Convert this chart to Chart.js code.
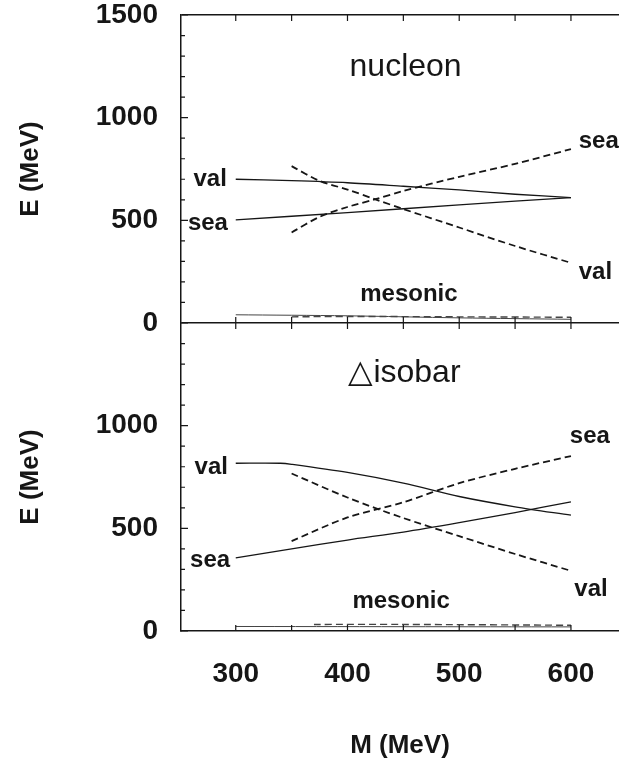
<!DOCTYPE html>
<html>
<head>
<meta charset="utf-8">
<script src="https://cdn.jsdelivr.net/npm/chart.js@4.4.1/dist/chart.umd.min.js"></script>
<style>
  html, body { margin: 0; padding: 0; background: #fff; }
</style>
</head>
<body>
<canvas id="chart" width="619" height="767"></canvas>
<script>
// M (MeV) on x, E (MeV) on y. Top panel: nucleon, bottom panel: Delta isobar.

// nucleon
const nucValM = [300, 350, 400, 450, 500, 550, 600];
const nucValE = [700, 693, 683, 666, 648, 627, 611];
const nucSeaM = [300, 400, 500, 600];
const nucSeaE = [502, 538, 575, 611];
const nucValDashM = [350, 375, 400, 425, 450, 500, 550, 600];
const nucValDashE = [764, 692, 650, 602, 555, 465, 375, 293];
const nucSeaDashM = [350, 375, 400, 425, 450, 500, 550, 600];
const nucSeaDashE = [441, 517, 565, 603, 643, 712, 775, 847];
const nucMesM = [300, 400, 500, 600];
const nucMesE = [40, 35, 25, 18];
const nucMesDashM = [350, 400, 500, 600];
const nucMesDashE = [30, 32, 30, 28];

// delta isobar
const delValM = [300, 340, 350, 400, 450, 500, 550, 600];
const delValE = [817, 817, 812, 772, 720, 655, 605, 564];
const delSeaM = [300, 350, 400, 450, 500, 550, 600];
const delSeaE = [356, 400, 443, 482, 528, 577, 629];
const delValDashM = [350, 400, 450, 500, 550, 600];
const delValDashE = [767, 650, 550, 462, 375, 293];
const delSeaDashM = [350, 400, 450, 500, 550, 600];
const delSeaDashE = [438, 553, 627, 720, 790, 852];
const delMesM = [300, 600];
const delMesE = [22, 20];
const delMesDashM = [370, 450, 600];
const delMesDashE = [32, 32, 28];

const xTickLabels = [300, 400, 500, 600];
const yTickLabels = [0, 500, 1000, 1500];

// text inside the panels, placed in data units
const nucNotes = [
  { text: 'val', m: 292, e: 700, align: 'right', kind: 'tag' },
  { text: 'sea', m: 293, e: 486, align: 'right', kind: 'tag' },
  { text: 'sea', m: 607, e: 884, align: 'left', kind: 'tag' },
  { text: 'val', m: 607, e: 248, align: 'left', kind: 'tag' },
  { text: 'nucleon', m: 452, e: 1244, align: 'center', kind: 'title' },
  { text: 'mesonic', m: 455, e: 141, align: 'center', kind: 'tag' }
];
const delNotes = [
  { text: 'val', m: 293, e: 799, align: 'right', kind: 'tag' },
  { text: 'sea', m: 295, e: 343, align: 'right', kind: 'tag' },
  { text: 'sea', m: 599, e: 946, align: 'left', kind: 'tag' },
  { text: 'val', m: 603, e: 201, align: 'left', kind: 'tag' },
  { text: '\u25B3isobar', m: 451, e: 1255, align: 'center', kind: 'title' },
  { text: 'mesonic', m: 448, e: 142, align: 'center', kind: 'tag' }
];

const ink = '#161616';
const FONT = '"Liberation Sans", Arial, Helvetica, sans-serif';
Chart.defaults.font.family = FONT;
Chart.defaults.color = ink;

function pts(ms, es) {
  return ms.map((m, i) => ({ x: m, y: es[i] }));
}

function solid(ms, es, axis, width, color) {
  return {
    data: pts(ms, es), yAxisID: axis,
    borderColor: color || ink, borderWidth: width || 1.3,
    pointRadius: 0, tension: 0.3, fill: false
  };
}

function dashed(ms, es, axis, width, color) {
  return {
    data: pts(ms, es), yAxisID: axis,
    borderColor: color || ink, borderWidth: width || 1.8,
    borderDash: [7, 4], pointRadius: 0, tension: 0.3, fill: false
  };
}

// small inward tick marks like the original frame
const innerTicks = {
  id: 'innerTicks',
  afterDraw(chart) {
    const { ctx, chartArea: a, scales } = chart;
    const sep = scales.yNuc.getPixelForValue(0);
    ctx.save();
    ctx.strokeStyle = ink;
    ctx.lineWidth = 1.2;
    ctx.beginPath();
    scales.x.ticks.forEach(t => {
      const px = scales.x.getPixelForValue(t.value);
      ctx.moveTo(px, a.bottom); ctx.lineTo(px, a.bottom - 6);
      ctx.moveTo(px, a.top); ctx.lineTo(px, a.top + 6);
      ctx.moveTo(px, sep - 6); ctx.lineTo(px, sep + 6);
    });
    [scales.yNuc, scales.yDel].forEach(s => s.ticks.forEach(t => {
      const py = s.getPixelForValue(t.value);
      const len = t.value % 500 === 0 ? 7 : 4;
      ctx.moveTo(a.left, py); ctx.lineTo(a.left + len, py);
    }));
    ctx.stroke();
    ctx.restore();
  }
};

const notesPlugin = {
  id: 'notes',
  afterDatasetsDraw(chart) {
    const { ctx, scales } = chart;
    const draw = (notes, axis) => notes.forEach(n => {
      ctx.font = n.kind === 'title' ? '32px ' + FONT : 'bold 24px ' + FONT;
      ctx.textAlign = n.align;
      ctx.textBaseline = 'middle';
      ctx.fillStyle = ink;
      ctx.fillText(n.text, scales.x.getPixelForValue(n.m), axis.getPixelForValue(n.e));
    });
    ctx.save();
    draw(nucNotes, scales.yNuc);
    draw(delNotes, scales.yDel);
    ctx.restore();
  }
};

function yAxis(title, showTop) {
  return {
    type: 'linear', position: 'left', stack: 'e', stackWeight: 1,
    min: 0, max: 1500,
    afterFit: s => { s.width = 181; s.paddingTop = 0; s.paddingBottom = 0; },
    ticks: {
      stepSize: 100, autoSkip: false, padding: 23,
      font: { size: 28, weight: 'bold', lineHeight: 1.1 },
      color: ink,
      callback: v => (yTickLabels.includes(v) && (showTop || v !== 1500)) ? String(v) : ''
    },
    grid: {
      display: showTop, drawTicks: false, lineWidth: 1.5,
      color: c => (c.tick && (c.tick.value === 0 || c.tick.value === 1500)) ? ink : 'rgba(0,0,0,0)'
    },
    border: { display: true, color: ink, width: 1.5 },
    title: {
      display: true, text: title, color: ink,
      font: { size: 26, weight: 'bold', lineHeight: 1.2 },
      padding: { top: 15, bottom: 0 }
    }
  };
}

new Chart(document.getElementById('chart'), {
  type: 'line',
  data: {
    datasets: [
      solid(nucValM, nucValE, 'yNuc'),
      solid(nucSeaM, nucSeaE, 'yNuc'),
      dashed(nucValDashM, nucValDashE, 'yNuc'),
      dashed(nucSeaDashM, nucSeaDashE, 'yNuc'),
      solid(nucMesM, nucMesE, 'yNuc', 1, '#444'),
      dashed(nucMesDashM, nucMesDashE, 'yNuc', 1.4, '#444'),
      solid(delValM, delValE, 'yDel'),
      solid(delSeaM, delSeaE, 'yDel'),
      dashed(delValDashM, delValDashE, 'yDel'),
      dashed(delSeaDashM, delSeaDashE, 'yDel'),
      solid(delMesM, delMesE, 'yDel', 1, '#444'),
      dashed(delMesDashM, delMesDashE, 'yDel', 1.4, '#444')
    ]
  },
  options: {
    responsive: false,
    animation: false,
    layout: { padding: { top: 15, right: 0, bottom: 0, left: 0 } },
    plugins: { legend: { display: false }, tooltip: { enabled: false } },
    scales: {
      x: {
        type: 'linear', position: 'bottom', min: 251, max: 643,
        afterFit: s => { s.paddingLeft = 0; s.paddingRight = 0; },
        ticks: {
          stepSize: 50, includeBounds: false, autoSkip: false, maxRotation: 0,
          padding: 28, color: ink,
          font: { size: 28, weight: 'bold', lineHeight: 1.1 },
          callback: v => xTickLabels.includes(v) ? String(v) : ''
        },
        grid: { display: false, drawTicks: false },
        border: { display: true, color: ink, width: 1.5 },
        title: {
          display: true, text: 'M (MeV)', color: ink,
          font: { size: 26, weight: 'bold', lineHeight: 1.2 },
          padding: { top: 12, bottom: 6 }
        }
      },
      yDel: yAxis('E (MeV)', false),
      yNuc: yAxis('E (MeV)', true)
    }
  },
  plugins: [innerTicks, notesPlugin]
});
</script>
</body>
</html>
